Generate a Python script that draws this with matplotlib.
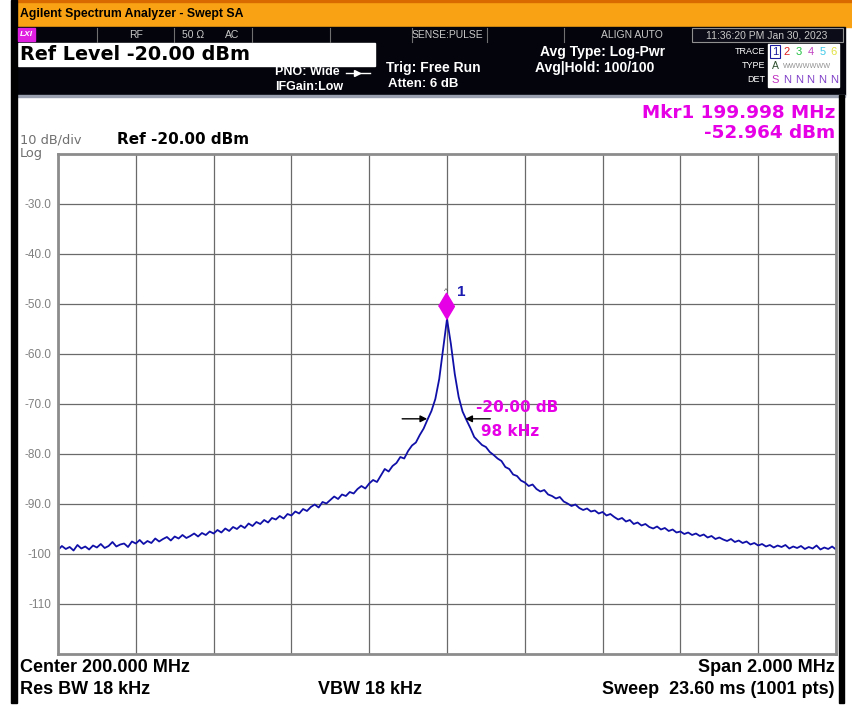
import numpy as np
import matplotlib
matplotlib.use("Agg")
import matplotlib.pyplot as plt
from matplotlib.patches import Rectangle
from matplotlib import transforms

plt.rcParams['font.family'] = ['Liberation Sans', 'DejaVu Sans']

# sweep: 199 .. 201 MHz, trace every 10 kHz
f_start, f_stop = 199.0, 201.0
levels = [
    -99.2, -98.4, -99.0, -98.6, -99.3, -98.2, -98.9, -98.5, -99.1, -98.3,
    -98.7, -98.0, -98.8, -98.4, -97.6, -98.5, -98.1, -97.9, -98.6, -97.5,
    -97.9, -97.2, -98.0, -97.4, -97.8, -96.9, -97.5, -97.0, -96.6, -97.3,
    -96.5, -96.9, -96.2, -96.8, -96.4, -95.9, -96.5, -95.8, -96.2, -95.5,
    -95.9, -95.2, -95.7, -94.9, -95.4, -94.6, -95.0, -94.3, -94.8, -93.9,
    -94.4, -93.6, -94.0, -93.2, -93.7, -92.8, -93.1, -92.4, -92.9, -92.0,
    -92.3, -91.5, -91.9, -91.0, -91.4, -90.6, -90.1, -90.7, -89.6, -89.9,
    -89.2, -88.5, -89.0, -88.1, -88.4, -87.6, -87.9, -87.0, -86.4, -86.9,
    -85.9, -85.2, -85.6, -84.3, -83.0, -83.5, -82.4, -81.8, -80.6, -80.9,
    -79.4, -78.3, -77.7, -76.2, -74.9, -73.1, -71.4, -69.0, -65.0, -59.0,
    -53.0,
    -58.0, -64.0, -68.6, -71.5, -73.2, -74.8, -76.6, -77.4, -78.2, -78.6,
    -79.6, -80.2, -80.9, -81.4, -82.6, -83.0, -84.1, -84.4, -85.3, -85.7,
    -86.4, -86.1, -87.0, -87.5, -87.2, -88.1, -88.4, -88.9, -88.6, -89.5,
    -89.9, -90.4, -90.1, -90.8, -91.2, -90.9, -91.5, -91.3, -91.9, -91.6,
    -92.3, -92.0, -92.6, -93.1, -92.8, -93.5, -93.2, -94.0, -93.7, -94.3,
    -94.0, -94.6, -94.9, -94.5, -95.1, -94.8, -95.4, -95.1, -95.7, -95.5,
    -96.0, -95.7, -96.2, -95.9, -96.4, -96.1, -96.7, -96.4, -97.0, -96.7,
    -97.1, -97.4, -97.0, -97.6, -97.3, -97.8, -97.5, -98.1, -97.8, -98.3,
    -98.0, -98.5, -98.2, -98.7, -98.3, -98.6, -98.2, -98.9, -98.5, -98.8,
    -98.4, -99.0, -98.6, -98.9, -98.3, -99.1, -98.7, -99.0, -98.5, -99.1,
]
freqs = np.linspace(f_start, f_stop, len(levels))

ref_level = -20.0
y_ticks = [-30, -40, -50, -60, -70, -80, -90, -100, -110]
mkr_freq = 199.998
mkr_level = -52.964
ndb = -20.0
ndb_bw = 0.098  # MHz

W, H = 853, 717
MAG = '#e600e6'
DJ = 'DejaVu Sans'
fig = plt.figure(figsize=(W / 100, H / 100), dpi=100)
fig.patch.set_facecolor('white')

# screen furniture drawn in pixel coordinates
bg = fig.add_axes([0, 0, 1, 1])
bg.set_xlim(0, W)
bg.set_ylim(H, 0)
bg.axis('off')

bg.add_patch(Rectangle((17, 0), 836, 27, color='#f8a214'))
bg.add_patch(Rectangle((17, 0), 836, 2, color='#d86a00'))
bg.add_patch(Rectangle((17, 27), 828, 68, color='#03040c'))
bg.add_patch(Rectangle((18, 43), 357, 23, color='white'))
bg.add_patch(Rectangle((17, 95), 828, 2, color='#9aa0b0'))
bg.add_patch(Rectangle((11, 0), 6, 703, color='black'))
bg.add_patch(Rectangle((839, 95), 5, 608, color='black'))

for sx in [97, 174, 252, 330, 412, 487, 564]:
    bg.plot([sx, sx], [28, 42], color='#707070', lw=0.8)
bg.add_patch(Rectangle((692, 28), 151, 14, facecolor='#0c0c18', edgecolor='#909090', lw=0.8))
bg.add_patch(Rectangle((18, 28), 17, 13, color='#e020e0'))
bg.text(26, 35, 'LXI', color='white', fontsize=6, fontweight='bold', style='italic', ha='center', va='center')

st = dict(color='#c8c8c8', fontsize=7.5, va='center')
bg.text(136, 35, 'RF', ha='center', **st)
bg.text(182, 35, '50 Ω', **st)
bg.text(225, 35, 'AC', **st)
bg.text(447, 35, 'SENSE:PULSE', ha='center', **st)
bg.text(632, 35, 'ALIGN AUTO', ha='center', **st)
bg.text(767, 35, '11:36:20 PM Jan 30, 2023', ha='center', **st)

bg.text(20, 14, 'Agilent Spectrum Analyzer - Swept SA', fontsize=8.8, fontweight='bold', va='center')
bg.text(20, 55, 'Ref Level -20.00 dBm', family=DJ, fontsize=13.8, fontweight='bold', va='center')

wh = dict(color='white', fontweight='bold', va='center')
bg.text(275, 72, 'PNO: Wide', fontsize=9, **wh)
bg.plot([346, 370], [73, 73], color='white', lw=1)
bg.plot([357], [73], marker='>', color='white', ms=4)
bg.text(275, 87, 'IFGain:Low', fontsize=9, **wh)
bg.text(386, 68, 'Trig: Free Run', fontsize=10, **wh)
bg.text(388, 84, 'Atten: 6 dB', fontsize=9.5, **wh)
bg.text(540, 52, 'Avg Type: Log-Pwr', fontsize=10, **wh)
bg.text(535, 68, 'Avg|Hold: 100/100', fontsize=10, **wh)

# trace status box
bg.add_patch(Rectangle((768, 44), 71, 43, color='white'))
for lbl, yy in [('TRACE', 51), ('TYPE', 65), ('DET', 79)]:
    bg.text(765, yy, lbl, color='white', fontsize=6.5, ha='right', va='center')
trace_cols = ['#1a1aa0', '#e02020', '#20c040', '#c040c0', '#40c8e8', '#e0e040']
for i, c in enumerate(trace_cols):
    bg.text(775 + i * 11.8, 52, str(i + 1), color=c, fontsize=8, ha='center', va='center')
bg.add_patch(Rectangle((770, 45), 10, 13, fill=False, edgecolor='#1a1aa0', lw=0.8))
bg.text(775, 66, 'A', color='#305030', fontsize=7.5, ha='center', va='center')
bg.text(783, 66, 'WWWWWWW', color='#909090', fontsize=5.2, va='center')
bg.text(775, 80, 'S', color='#c030c0', fontsize=8, ha='center', va='center')
for i in range(5):
    bg.text(787 + i * 11.8, 80, 'N', color='#8040c8', fontsize=8, ha='center', va='center')

bg.text(835, 113, 'Mkr1 199.998 MHz', family=DJ, color=MAG, fontsize=13.2, fontweight='bold', ha='right', va='center')
bg.text(835, 133, '-52.964 dBm', family=DJ, color=MAG, fontsize=13.2, fontweight='bold', ha='right', va='center')
bg.text(20, 146.5, '10 dB/div', family=DJ, color='#707070', fontsize=9.3, va='bottom')
bg.text(20, 146.5, 'Log', family=DJ, color='#707070', fontsize=9.3, va='top')
bg.text(117, 140, 'Ref -20.00 dBm', family=DJ, fontsize=11, fontweight='bold', va='center')

nar = dict(family=['Liberation Sans Narrow', 'Liberation Sans', 'DejaVu Sans'],
           fontsize=13, fontweight='bold', va='center')
bg.text(20, 667, 'Center 200.000 MHz', **nar)
bg.text(20, 689, 'Res BW 18 kHz', **nar)
bg.text(318, 689, 'VBW 18 kHz', **nar)
bg.text(835, 667, 'Span 2.000 MHz', ha='right', **nar)
bg.text(835, 689, 'Sweep  23.60 ms (1001 pts)', ha='right', **nar)

# graticule
ax = fig.add_axes([58 / W, (H - 654) / H, 778 / W, 500 / H])
ax.set_xlim(f_start, f_stop)
ax.set_ylim(ref_level - 100, ref_level)
ax.set_xticks(np.linspace(f_start, f_stop, 11))
ax.set_yticks(y_ticks)
ax.set_xticklabels([])
ax.set_yticklabels([f'{v:.1f}' if v > -100 else f'{v}' for v in y_ticks])
ax.tick_params(length=0, pad=5, labelsize=8.5, labelcolor='#808080')
ax.grid(True, color='#6a6a6a', lw=0.9)
for s in ax.spines.values():
    s.set_color('#8c8c8c')
    s.set_linewidth(2)

ax.plot(freqs, levels, color='#1010a8', lw=1.3)

# marker 1
diamond = [(0, -1), (0.6, 0), (0, 1), (-0.6, 0)]
up = transforms.offset_copy(ax.transData, fig=fig, y=13, units='dots')
ax.plot([mkr_freq], [mkr_level], marker=diamond, ms=19, color=MAG, transform=up, clip_on=False)
ax.annotate('1', (mkr_freq, mkr_level), xytext=(8, 19), textcoords='offset points',
            color='#1a1ab0', fontsize=11, fontweight='bold', ha='left', va='center')
ax.annotate('^', (mkr_freq, mkr_level), xytext=(0, 20), textcoords='offset points',
            color='#404040', fontsize=6, ha='center', va='center')

# n dB bandwidth arrows
y_ndb = mkr_level + ndb
f_lo = mkr_freq - ndb_bw / 2
f_hi = mkr_freq + ndb_bw / 2
arr = dict(arrowstyle='-|>', color='black', lw=1, mutation_scale=10, shrinkA=0, shrinkB=0)
ax.annotate('', (f_lo, y_ndb), xytext=(-18, 0), textcoords='offset points', arrowprops=arr)
ax.annotate('', (f_hi, y_ndb), xytext=(18, 0), textcoords='offset points', arrowprops=arr)
ax.annotate('-20.00 dB', (f_hi, y_ndb), xytext=(8, 8), textcoords='offset points', family=DJ,
            color=MAG, fontsize=11, fontweight='bold', va='center')
ax.annotate('98 kHz', (f_hi, y_ndb), xytext=(11, -9), textcoords='offset points', family=DJ,
            color=MAG, fontsize=11, fontweight='bold', va='center')

fig.savefig('out.png', dpi=100)
